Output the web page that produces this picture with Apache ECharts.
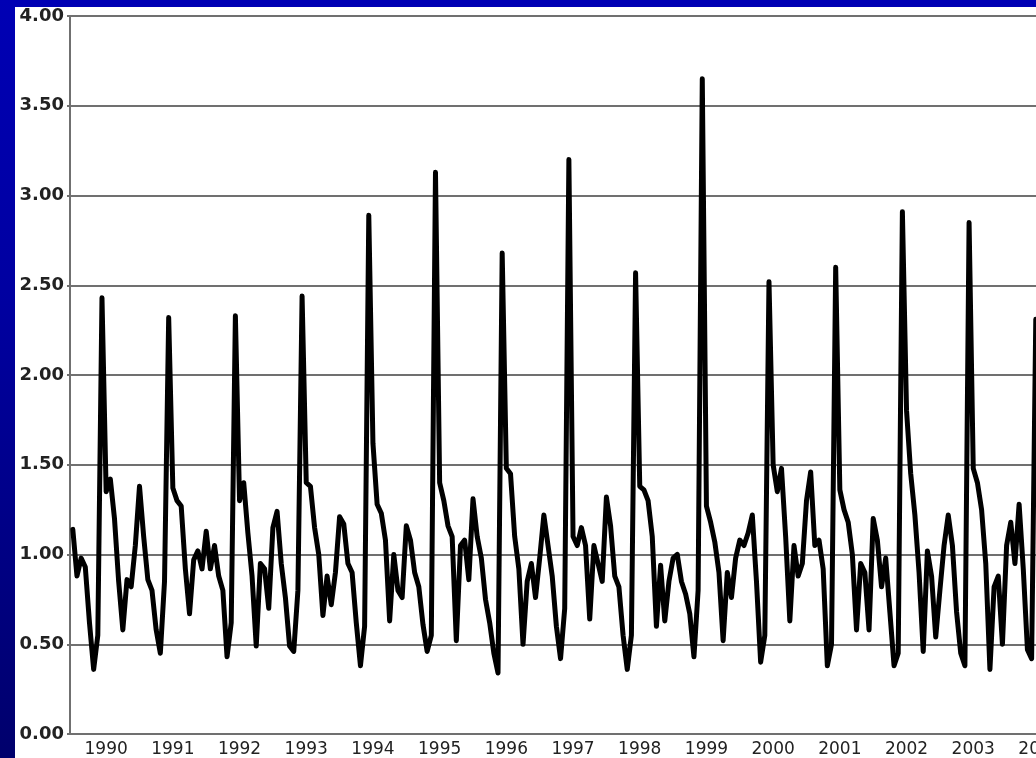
<!DOCTYPE html>
<html>
<head>
<meta charset="utf-8">
<script src="https://cdn.jsdelivr.net/npm/echarts@6/dist/echarts.min.js"></script>
<style>
  html, body { margin: 0; padding: 0; width: 1036px; height: 758px; overflow: hidden; }
  body { background: linear-gradient(to bottom, #0000b4 0%, #0000a0 40%, #00006c 100%); position: relative; }
  #paper { position: absolute; left: 15px; top: 7px; width: 1100px; height: 800px; background: #ffffff; }
  #chart { position: absolute; left: 0; top: 0; width: 1100px; height: 758px; }
</style>
</head>
<body>
<div id="paper"></div>
<div id="chart"></div>
<script>
// Sixteen samples per season, each season running from mid-year (Y-0.5) to just before (Y+0.5)
const stepsPerYear = 16;
const seasonYears = [1990, 1991, 1992, 1993, 1994, 1995, 1996, 1997, 1998, 1999, 2000, 2001, 2002, 2003, 2004];

const s1990 = [1.14, 0.88, 0.98, 0.93, 0.62, 0.36, 0.55, 2.43, 1.35, 1.42, 1.20, 0.85, 0.58, 0.86, 0.82, 1.05];
const s1991 = [1.38, 1.10, 0.86, 0.80, 0.58, 0.45, 0.85, 2.32, 1.37, 1.30, 1.27, 0.92, 0.67, 0.97, 1.02, 0.92];
const s1992 = [1.13, 0.92, 1.05, 0.88, 0.80, 0.43, 0.62, 2.33, 1.30, 1.40, 1.12, 0.88, 0.49, 0.95, 0.92, 0.70];
const s1993 = [1.15, 1.24, 0.95, 0.76, 0.49, 0.46, 0.80, 2.44, 1.40, 1.38, 1.15, 1.00, 0.66, 0.88, 0.72, 0.90];
const s1994 = [1.21, 1.17, 0.95, 0.90, 0.62, 0.38, 0.60, 2.89, 1.62, 1.28, 1.23, 1.08, 0.63, 1.00, 0.80, 0.76];
const s1995 = [1.16, 1.08, 0.90, 0.82, 0.61, 0.46, 0.55, 3.13, 1.40, 1.30, 1.16, 1.10, 0.52, 1.05, 1.08, 0.86];
const s1996 = [1.31, 1.10, 0.98, 0.75, 0.62, 0.45, 0.34, 2.68, 1.48, 1.45, 1.10, 0.92, 0.50, 0.85, 0.95, 0.76];
const s1997 = [0.98, 1.22, 1.05, 0.88, 0.60, 0.42, 0.70, 3.20, 1.10, 1.05, 1.15, 1.05, 0.64, 1.05, 0.95, 0.85];
const s1998 = [1.32, 1.16, 0.88, 0.82, 0.55, 0.36, 0.55, 2.57, 1.38, 1.36, 1.30, 1.10, 0.60, 0.94, 0.63, 0.85];
const s1999 = [0.98, 1.00, 0.85, 0.78, 0.67, 0.43, 0.80, 3.65, 1.27, 1.18, 1.07, 0.90, 0.52, 0.90, 0.76, 0.98];
const s2000 = [1.08, 1.05, 1.12, 1.22, 0.85, 0.40, 0.55, 2.52, 1.50, 1.35, 1.48, 1.10, 0.63, 1.05, 0.88, 0.95];
const s2001 = [1.30, 1.46, 1.05, 1.08, 0.92, 0.38, 0.50, 2.60, 1.36, 1.25, 1.18, 1.00, 0.58, 0.95, 0.90, 0.58];
const s2002 = [1.20, 1.08, 0.82, 0.98, 0.68, 0.38, 0.45, 2.91, 1.80, 1.45, 1.22, 0.90, 0.46, 1.02, 0.88, 0.54];
const s2003 = [0.80, 1.05, 1.22, 1.05, 0.68, 0.45, 0.38, 2.85, 1.48, 1.40, 1.25, 0.95, 0.36, 0.82, 0.88, 0.50];
const s2004 = [1.05, 1.18, 0.95, 1.28, 0.92, 0.47, 0.42, 2.31];

const yearLabels = [1990, 1991, 1992, 1993, 1994, 1995, 1996, 1997, 1998, 1999, 2000, 2001, 2002, 2003, 2004];

const seasons = [s1990, s1991, s1992, s1993, s1994, s1995, s1996, s1997, s1998, s1999, s2000, s2001, s2002, s2003, s2004];
const points = [];
seasons.forEach((arr, i) => {
  const Y = seasonYears[i];
  arr.forEach((v, k) => points.push([Y - 0.5 + k / stepsPerYear, v]));
});

const chart = echarts.init(document.getElementById('chart'), null, { renderer: 'canvas' });
const gray = '#707070';
chart.setOption({
  animation: false,
  backgroundColor: 'transparent',
  grid: { left: 70, right: 26.7, top: 16, bottom: 24, containLabel: false },
  xAxis: {
    type: 'value',
    min: 1989.458,
    max: 2004.5,
    axisLine: { show: true, onZero: false, lineStyle: { color: gray, width: 2 } },
    axisTick: { show: false },
    splitLine: { show: false },
    axisLabel: {
      customValues: yearLabels,
      formatter: v => String(Math.round(v)),
      color: '#222222',
      fontFamily: 'DejaVu Sans',
      fontSize: 17,
      margin: 7
    }
  },
  yAxis: {
    type: 'value',
    min: 0,
    max: 4,
    interval: 0.5,
    axisLine: { show: true, lineStyle: { color: gray, width: 2 } },
    axisTick: { show: true, length: 3, lineStyle: { color: gray, width: 2 } },
    splitLine: { show: true, lineStyle: { color: gray, width: 2 } },
    axisLabel: {
      formatter: v => v.toFixed(2),
      color: '#222222',
      fontFamily: 'DejaVu Sans',
      fontWeight: 'bold',
      fontSize: 18,
      margin: 6
    }
  },
  series: [{
    type: 'line',
    data: points,
    showSymbol: false,
    symbol: 'none',
    smooth: false,
    lineStyle: { color: '#000000', width: 5, join: 'round', cap: 'round' },
    z: 5
  }]
});
</script>
</body>
</html>
